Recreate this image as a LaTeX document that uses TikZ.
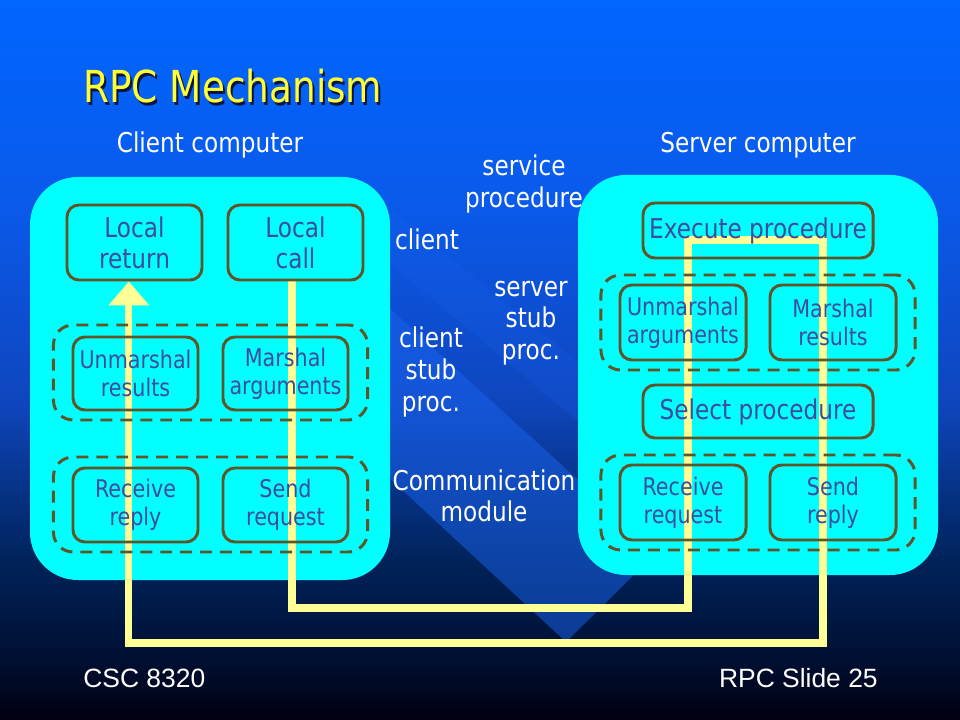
\documentclass[tikz,border=0pt]{standalone}
\usepackage{fontspec}
\setmainfont{DejaVu Sans}[FakeStretch=0.85]
\newfontfamily\footfont{Liberation Sans}
\usetikzlibrary{arrows.meta}

\definecolor{boxcyan}{RGB}{0,255,255}
\definecolor{boxline}{RGB}{95,85,40}
\definecolor{boxtext}{RGB}{65,75,155}
\definecolor{wireyellow}{RGB}{255,255,150}
\definecolor{titleyellow}{RGB}{255,255,51}
\definecolor{titleshade}{RGB}{10,20,60}
\definecolor{stripeblue}{RGB}{25,100,240}
\definecolor{bgtop}{RGB}{0,102,255}
\definecolor{bgupper}{RGB}{10,90,235}
\definecolor{bgmid}{RGB}{15,70,190}
\definecolor{bglow}{RGB}{0,35,90}
\definecolor{bgdeep}{RGB}{0,15,50}
\definecolor{bgbottom}{RGB}{0,0,15}

% slide background, top bright blue to black
\pgfdeclareverticalshading{slidebg}{100bp}{color(0bp)=(bgbottom); color(25bp)=(bgbottom);
  color(29.2bp)=(bgdeep); color(36.1bp)=(bglow); color(47.2bp)=(bgmid);
  color(61.1bp)=(bgupper); color(75bp)=(bgtop); color(100bp)=(bgtop)}

\pgfdeclarelayer{bg}
\pgfdeclarelayer{mid}
\pgfsetlayers{bg,mid,main}

\tikzset{
  proc/.style={draw=boxline, line width=2.1pt, rounded corners=8.5pt, align=center,
    text=boxtext, inner sep=0pt},
  bigproc/.style={proc, font=\fontsize{19.4}{22}\selectfont},
  smallproc/.style={proc, font=\fontsize{17.3}{20}\selectfont},
  layerbox/.style={draw=boxline, line width=2.1pt, dash pattern=on 8.5pt off 5.7pt,
    rounded corners=14pt, minimum width=7.85cm, minimum height=2.375cm},
  comp/.style={fill=boxcyan, rounded corners=34pt},
  lbl/.style={text=white, align=center, font=\fontsize{19.4}{22.5}\selectfont, inner sep=0pt},
  wire/.style={draw=wireyellow, line width=5pt, line join=miter},
}

\begin{document}
\begin{tikzpicture}[x=0.025cm, y=-0.025cm]
  \useasboundingbox (0,0) rectangle (960,720);

  \begin{pgfonlayer}{bg}
    \fill[shading=slidebg] (0,0) rectangle (960,720);
    % the lighter V behind the middle
    \fill[stripeblue, opacity=0.5] (300,227) -- (620,518) -- (700,440) -- (740,470)
      -- (566,642) -- (300,395) -- cycle;
    \fill[stripeblue, opacity=0.2] (380,200) -- (600,380) -- (600,440) -- (380,255) -- cycle;
    \fill[comp] (30,177) rectangle (390,580);
    \fill[comp] (578,175) rectangle (938,575);
  \end{pgfonlayer}

  % title and headings
  \node[anchor=base west, text=titleshade, font=\fontsize{31.3}{36}\selectfont, inner sep=0pt]
    (titleshadow) at (85,106) {RPC Mechanism};
  \node[anchor=base west, text=titleyellow, font=\fontsize{31.3}{36}\selectfont, inner sep=0pt]
    (title) at (83,103) {RPC Mechanism};
  \node[lbl, anchor=base] (clienthead) at (210,153) {Client computer};
  \node[lbl, anchor=base] (serverhead) at (758,153) {Server computer};

  % client side
  \node[bigproc, minimum width=3.375cm, minimum height=1.875cm] (lret) at (134.5,242.5) {Local\\return};
  \node[bigproc, minimum width=3.375cm, minimum height=1.875cm] (lcall) at (295.5,242.5) {Local\\call};
  \node[layerbox] (cstubgrp) at (210.5,372.5) {};
  \node[smallproc, minimum width=3.125cm, minimum height=1.825cm] (unmres) at (135.5,373.5) {Unmarshal\\results};
  \node[smallproc, minimum width=3.125cm, minimum height=1.825cm] (marg) at (285.5,373.5) {Marshal\\arguments};
  \node[layerbox] (ccommgrp) at (210.5,504.5) {};
  \node[smallproc, minimum width=3.125cm, minimum height=1.85cm] (rrep) at (135.5,505) {Receive\\reply};
  \node[smallproc, minimum width=3.125cm, minimum height=1.85cm] (sreq) at (285.5,505) {Send\\request};

  % server side
  \node[bigproc, minimum width=5.75cm, minimum height=1.375cm] (exec) at (758,230.5) {Execute procedure};
  \node[layerbox] (sstubgrp) at (758,322.5) {};
  \node[smallproc, minimum width=3.15cm, minimum height=1.875cm] (unmarg) at (683,322.5) {Unmarshal\\arguments};
  \node[smallproc, minimum width=3.15cm, minimum height=1.875cm] (mres) at (833,322.5) {Marshal\\results};
  \node[bigproc, minimum width=5.75cm, minimum height=1.325cm] (sel) at (758,411.5) {Select procedure};
  \node[layerbox] (scommgrp) at (758,502.5) {};
  \node[smallproc, minimum width=3.15cm, minimum height=1.875cm] (rreq) at (683,502.5) {Receive\\request};
  \node[smallproc, minimum width=3.15cm, minimum height=1.875cm] (srep) at (833,502.5) {Send\\reply};

  % labels in the middle
  \node[lbl] (svc) at (524,184) {service\\procedure};
  \node[lbl, anchor=base] (clnt) at (427,250) {client};
  \node[lbl] (sstub) at (531,323) {server\\stub\\proc.};
  \node[lbl] (cstub) at (431,372) {client\\stub\\proc.};
  \node[lbl] (comm) at (484,496) {Communication\\module};

  % footer
  \node[anchor=base west, text=white, font=\footfont\fontsize{18.8}{22}\selectfont, inner sep=0pt]
    (course) at (83,687) {CSC 8320};
  \node[anchor=base east, text=white, font=\footfont\fontsize{18.8}{22}\selectfont, inner sep=0pt]
    (slideno) at (878,687) {RPC Slide 25};

  % call path, out and back
  \coordinate (botA) at (688,608);
  \coordinate (topA) at (688,240);
  \coordinate (topB) at (823,240);
  \coordinate (botB) at (823,643);
  \begin{pgfonlayer}{mid}
    \draw[wire, -{Triangle[length=17pt,width=28pt]}] ([xshift=-2.5pt]lcall.south) |- (botA)
      -- (topA) -- (topB) -- (botB) -| ([xshift=-4pt]lret.south);
  \end{pgfonlayer}
\end{tikzpicture}
\end{document}
